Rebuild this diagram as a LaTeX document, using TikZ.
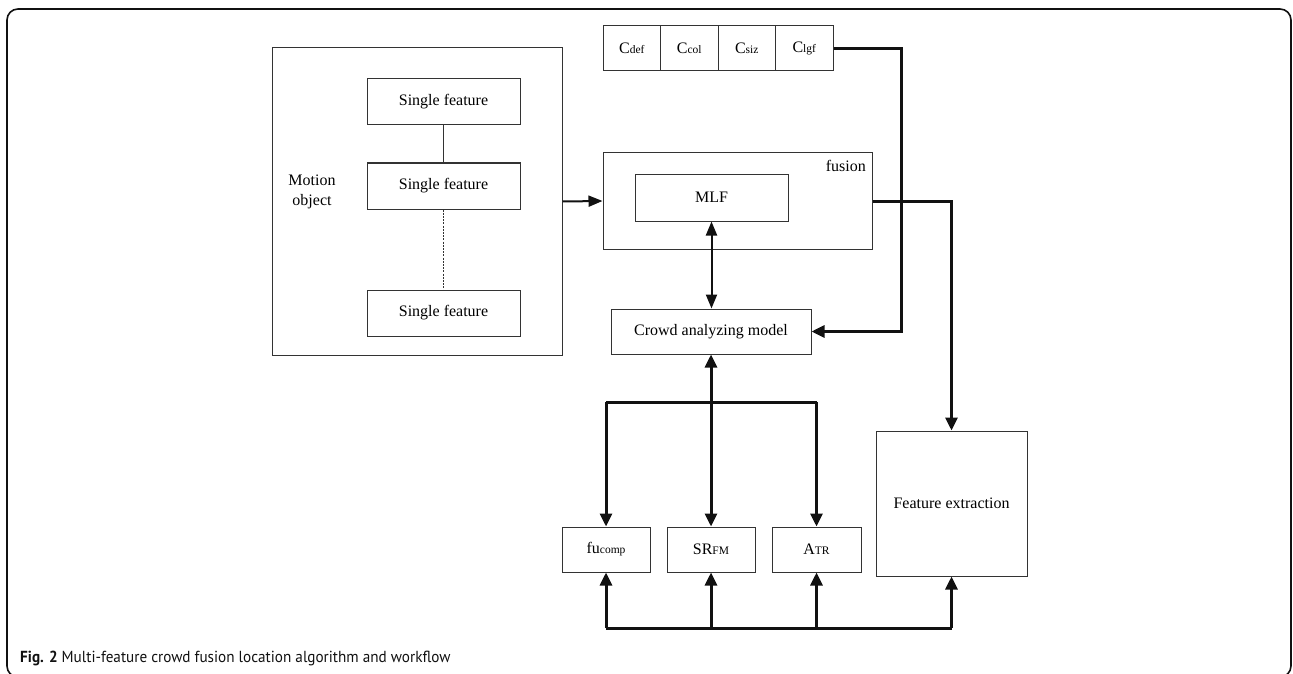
\documentclass[tikz,border=0pt]{standalone}
\usepackage{fontspec}
\setmainfont{Liberation Serif}
\newfontfamily\capfont{PT Sans}
\usetikzlibrary{arrows.meta}
\definecolor{boxc}{HTML}{333333}
\definecolor{linec}{HTML}{111111}
\newcommand{\sm}[1]{{\fontsize{11.5}{12}\selectfont #1}}
\tikzset{
  box/.style={draw=boxc, line width=1pt, minimum width=#1, inner sep=0pt, font=\fontsize{16}{20}\selectfont},
  thinc/.style={draw=boxc, line width=0.9pt},
  medarrow/.style={draw=linec, line width=2pt, -{Triangle[length=14pt,width=11pt]}},
  medboth/.style={draw=linec, line width=2pt, {Triangle[length=14pt,width=11pt]}-{Triangle[length=14pt,width=11pt]}},
  thickline/.style={draw=linec, line width=3pt},
  thickarrow/.style={draw=linec, line width=3pt, -{Triangle[length=13pt,width=12pt]}},
  thickboth/.style={draw=linec, line width=3pt, {Triangle[length=13pt,width=12pt]}-{Triangle[length=13pt,width=12pt]}},
}
\begin{document}
\begin{tikzpicture}[x=1pt,y=-1pt]
\useasboundingbox (0,0) rectangle (1293,674);
% outer frame
\draw[line width=1.6pt, draw=linec, rounded corners=11pt] (7,9) rectangle (1291,677);

% motion object
\node[box=290pt, minimum height=307pt] (motion) at (417,201.5) {};
\node[font=\fontsize{16}{20}\selectfont, align=center] (motlbl) at (312,192) {Motion\\object};
\node[box=153pt, minimum height=46pt] (sf1) at (443.5,102) {Single feature};
\node[box=153pt, minimum height=46pt] (sf2) at (443.5,186) {Single feature};
\node[box=153pt, minimum height=46pt] (sf3) at (443.5,313) {Single feature};
\draw[thinc] (sf1.south) -- (sf2.north);
\draw[thinc, dash pattern=on 2pt off 1.2pt] (sf2.south) -- (sf3.north);

% C boxes
\node[box=57.5pt, minimum height=45pt] (c1) at (631.75,48.5) {C\sm{def}};
\node[box=57.5pt, minimum height=45pt] (c2) at (689.25,48.5) {C\sm{col}};
\node[box=57.5pt, minimum height=45pt] (c3) at (746.75,48.5) {C\sm{siz}};
\node[box=57.5pt, minimum height=45pt] (c4) at (804.25,48.5) {C\sm{lgf}};

% fusion
\node[box=269pt, minimum height=96pt] (fusion) at (737.5,201) {};
\node[font=\fontsize{16}{20}\selectfont, anchor=north east, inner sep=0pt] (fuslbl) at (866,160) {fusion};
\node[box=153pt, minimum height=47pt] (mlf) at (711.5,197.5) {MLF};

% crowd
\node[box=200pt, minimum height=45pt] (crowd) at (711,331.5) {Crowd analyzing model};

% bottom boxes
\node[box=88pt, minimum height=45pt] (fu) at (606,549.5) {fu\sm{comp}};
\node[box=88pt, minimum height=45pt] (sr) at (711,549.5) {SR\sm{FM}};
\node[box=89pt, minimum height=45pt] (atr) at (816.5,549.5) {A\sm{TR}};
\node[box=151pt, minimum height=145pt] (fe) at (951.5,503.5) {Feature extraction};

% connectors
\draw[medarrow] (motion.east) -- (fusion.west);
\draw[medboth] (mlf.south) -- (mlf.south |- crowd.north);

\coordinate (k1) at (901,48.5);
\coordinate (k2) at (901,331.5);
\draw[thickarrow] (c4.east) -- (k1) -- (k2) -- (crowd.east);

\draw[thickarrow] (fusion.east) -| (fe.north);

\coordinate (t1) at (606,402);
\coordinate (t2) at (816.5,402);
\draw[thickline] (t1) -- (t2);
\draw[thickarrow] (t1) -- (fu.north);
\draw[thickarrow] (t2) -- (atr.north);
\draw[thickboth] (crowd.south) -- (sr.north);

\coordinate (b1) at (606,628);
\coordinate (b2) at (711,628);
\coordinate (b3) at (816.5,628);
\coordinate (b4) at (951.5,628);
\draw[thickline] (b1) -- (b4);
\draw[thickarrow] (b1) -- (fu.south);
\draw[thickarrow] (b2) -- (sr.south);
\draw[thickarrow] (b3) -- (atr.south);
\draw[thickarrow] (b4) -- (fe.south);

% caption
\node[anchor=base west, inner sep=0pt, font=\capfont\fontsize{16}{18}\selectfont, text=linec] (cap) at (20,662) {\scalebox{0.95}[1]{\textbf{Fig. 2} Multi-feature crowd fusion location algorithm and workflow}};
\end{tikzpicture}
\end{document}
